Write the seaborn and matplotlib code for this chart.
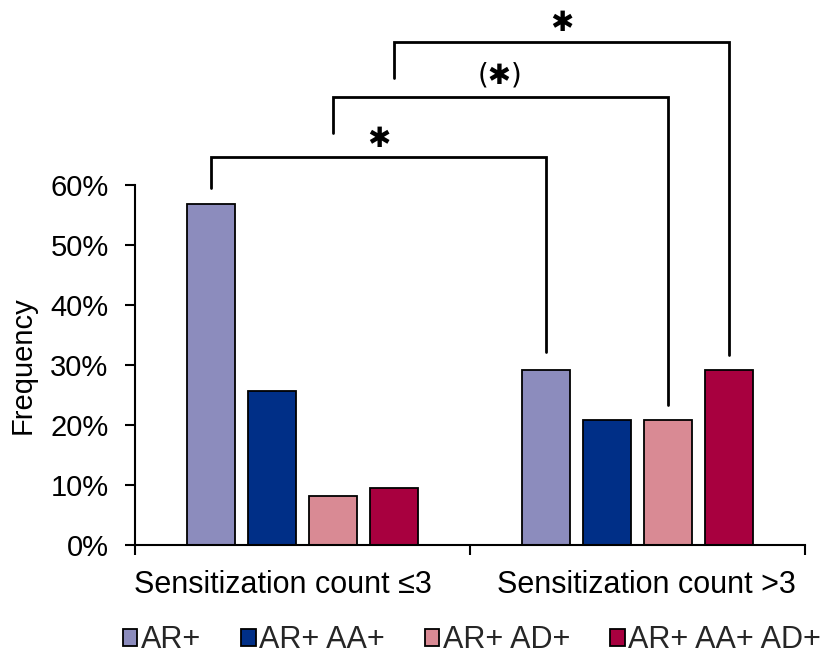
import matplotlib
matplotlib.use("Agg")
import matplotlib.pyplot as plt
import matplotlib.transforms as mtransforms
import seaborn as sns
import pandas as pd
from matplotlib.ticker import PercentFormatter, FixedLocator
from matplotlib.patches import Patch

categories = ["Sensitization count ≤3", "Sensitization count >3"]
groups = ["AR+", "AR+ AA+", "AR+ AD+", "AR+ AA+ AD+"]
freq_low = [0.568, 0.257, 0.081, 0.095]
freq_high = [0.292, 0.208, 0.208, 0.292]
colors = ["#8C8CBD", "#002F87", "#D98A94", "#A8003F"]
yticks = [0.0, 0.1, 0.2, 0.3, 0.4, 0.5, 0.6]

rows = []
for g, v in zip(groups, freq_low):
    rows.append({"cat": categories[0], "group": g, "freq": v})
for g, v in zip(groups, freq_high):
    rows.append({"cat": categories[1], "group": g, "freq": v})
df = pd.DataFrame(rows)

sns.set_theme(style="white")
plt.rcParams["font.family"] = ["Liberation Sans", "DejaVu Sans"]

FS = 21

fig = plt.figure(figsize=(8.29, 6.55), dpi=100)
ax = fig.add_axes([135/829, 110/655, 670/829, 360/655])

sns.barplot(data=df, x="cat", y="freq", hue="group", order=categories,
            hue_order=groups, palette=colors, saturation=1, width=0.728,
            gap=0.2, edgecolor="black", linewidth=1.3, legend=False, ax=ax)

ax.set_xlim(-0.5, 1.5)
ax.set_ylim(0, 0.6)
ax.yaxis.set_major_locator(FixedLocator(yticks))
ax.yaxis.set_major_formatter(PercentFormatter(1.0, decimals=0))
for s in ["top", "right"]:
    ax.spines[s].set_visible(False)
for s in ["left", "bottom"]:
    ax.spines[s].set_linewidth(1.5)
    ax.spines[s].set_color("black")

ax.tick_params(axis="y", which="major", direction="out", length=7, width=1.5,
               labelsize=FS, pad=12, colors="black", left=True)
ax.tick_params(axis="x", which="major", length=0, labelsize=22, pad=18,
               colors="black")
ax.set_xticks([-0.5, 0.5, 1.5], minor=True)
ax.tick_params(axis="x", which="minor", direction="out", length=7, width=1.5,
               color="black", bottom=True)
ax.set_xlabel("")
ax.set_ylabel("Frequency", fontsize=FS, labelpad=10, color="black")

# small horizontal offsets of category labels as in the reference
for lab, dx in zip(ax.get_xticklabels(), [-20, 9]):
    lab.set_transform(lab.get_transform() +
                      mtransforms.ScaledTranslation(dx / 100, 0, fig.dpi_scale_trans))

# bar centers from the drawn containers
def center(h, c):
    b = ax.containers[h][c]
    return b.get_x() + b.get_width() / 2

lw = 2.0
brackets = [
    # (hue index, left leg bottom, right leg bottom, top, label, label y)
    (0, 0.595, 0.322, 0.647, "✱", 0.677),
    (2, 0.687, 0.233, 0.747, "(✱)", 0.782),
    (3, 0.778, 0.317, 0.838, "✱", 0.870),
]
for h, lb, rb, top, lab, ly in brackets:
    x0 = center(h, 0)
    x1 = center(h, 1)
    ax.plot([x0, x0, x1, x1], [lb, top, top, rb], color="black", lw=lw,
            clip_on=False, solid_joinstyle="miter")
    ax.text((x0 + x1) / 2, ly, lab, ha="center", va="center", fontsize=20,
            color="black", clip_on=False, family=["DejaVu Sans"])

handles = [Patch(facecolor=c, edgecolor="black", linewidth=1.3) for c in colors]
fig.legend(handles, groups, loc="center", bbox_to_anchor=(472/829, 15/655),
           ncol=4, frameon=False, fontsize=22, handlelength=0.48,
           handleheight=0.48, handletextpad=0.12, columnspacing=1.3,
           borderaxespad=0)

fig.savefig("out.png", dpi=100)
